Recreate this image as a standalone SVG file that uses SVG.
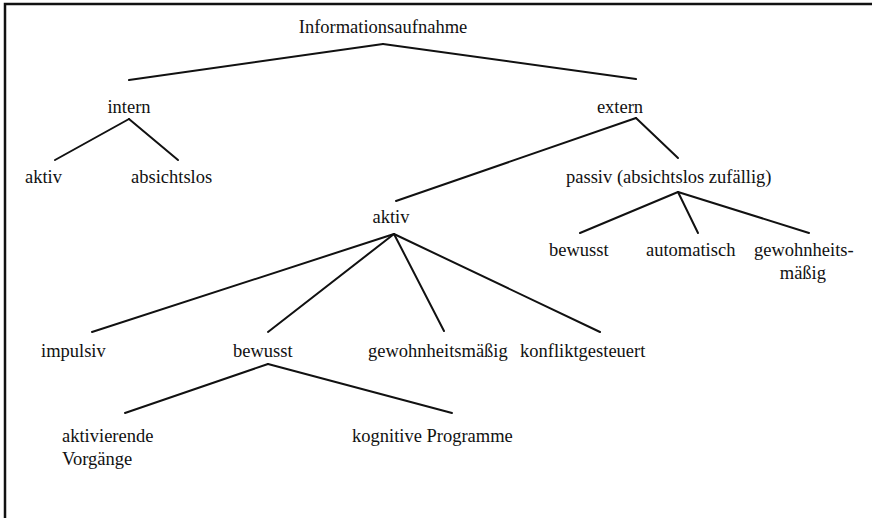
<svg xmlns="http://www.w3.org/2000/svg" width="872" height="518" viewBox="0 0 872 518">
<style>
text{font-family:"Liberation Serif","Times New Roman",serif;font-size:18.5px;fill:#111}
.c{stroke:#111;stroke-width:2;fill:none;stroke-linecap:round}
.m{text-anchor:middle}
</style>
<rect width="872" height="518" fill="#fff"/>
<polyline points="5,518 5,4 872,4" fill="none" stroke="#111" stroke-width="2.5"/>
<g id="connectors" class="c">
<line x1="383" y1="44" x2="129" y2="80"/>
<line x1="383" y1="44" x2="636" y2="79"/>
<line x1="129" y1="119" x2="55" y2="160"/>
<line x1="129" y1="119" x2="178" y2="160"/>
<line x1="636" y1="118" x2="396" y2="201"/>
<line x1="636" y1="118" x2="678" y2="158"/>
<line x1="678" y1="192" x2="580" y2="233"/>
<line x1="678" y1="192" x2="698" y2="233"/>
<line x1="678" y1="192" x2="809" y2="233"/>
<line x1="394" y1="234" x2="92" y2="332"/>
<line x1="394" y1="234" x2="268" y2="332"/>
<line x1="394" y1="234" x2="444" y2="331"/>
<line x1="394" y1="234" x2="600" y2="332"/>
<line x1="268" y1="364" x2="125" y2="413"/>
<line x1="268" y1="364" x2="452" y2="413"/>
</g>
<g id="n-info"><text class="m" x="383" y="33">Informationsaufnahme</text></g>
<g id="n-intern"><text class="m" x="129" y="113">intern</text></g>
<g id="n-extern"><text class="m" x="620" y="113">extern</text></g>
<g id="n-intern-aktiv"><text x="25" y="183">aktiv</text></g>
<g id="n-absichtslos"><text x="131" y="183">absichtslos</text></g>
<g id="n-passiv"><text x="566" y="183">passiv (absichtslos zufällig)</text></g>
<g id="n-aktiv"><text class="m" x="391" y="223">aktiv</text></g>
<g id="n-p-bewusst"><text x="549" y="256">bewusst</text></g>
<g id="n-automatisch"><text x="646" y="256">automatisch</text></g>
<g id="n-p-gewohnheit"><text x="754" y="256">gewohnheits-</text><text x="826" y="279" style="text-anchor:end">mäßig</text></g>
<g id="n-impulsiv"><text x="41" y="357">impulsiv</text></g>
<g id="n-bewusst"><text x="233" y="357">bewusst</text></g>
<g id="n-gewohnheitsmaessig"><text x="368" y="357">gewohnheitsmäßig</text></g>
<g id="n-konflikt"><text x="520" y="357">konfliktgesteuert</text></g>
<g id="n-aktivierende"><text x="62" y="442">aktivierende</text><text x="62" y="465">Vorgänge</text></g>
<g id="n-kognitive"><text x="352" y="442">kognitive Programme</text></g>
</svg>
